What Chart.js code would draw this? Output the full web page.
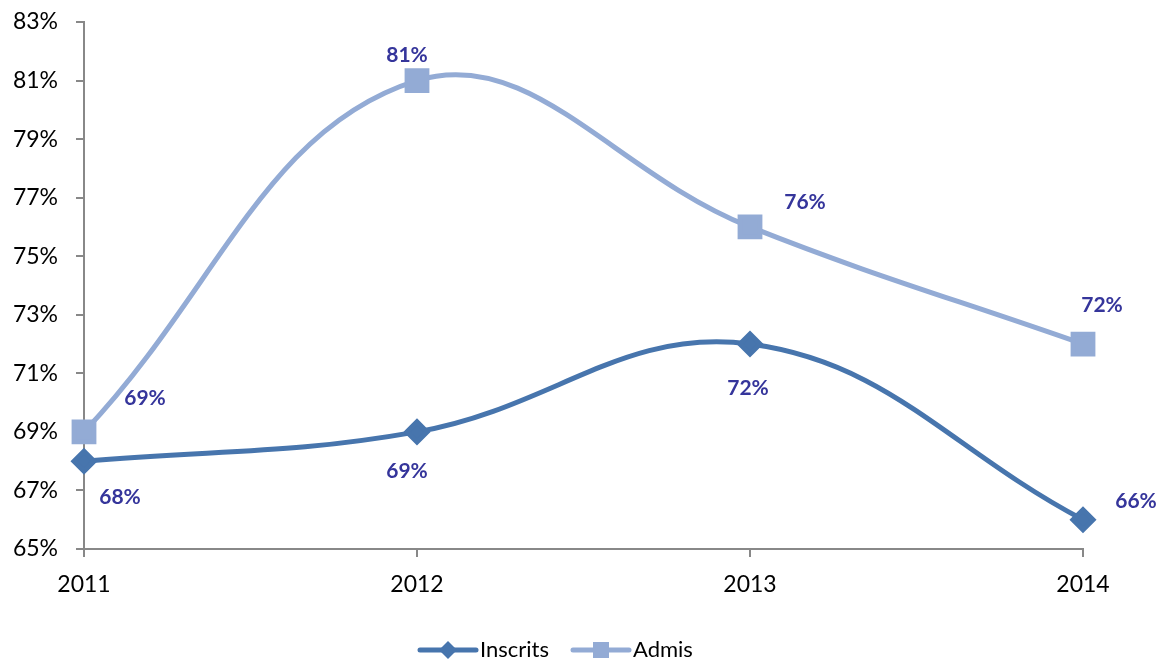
<!DOCTYPE html>
<html>
<head>
<meta charset="utf-8">
<script src="https://cdn.jsdelivr.net/npm/chart.js@4"></script>
<style>
  html, body { margin: 0; padding: 0; background: #fff; }
  #wrap { width: 1167px; height: 664px; }
</style>
</head>
<body>
<div id="wrap"><canvas id="chart" width="1167" height="664"></canvas></div>
<script>
const years = ['2011', '2012', '2013', '2014'];
const inscrits = [68, 69, 72, 66];
const admis = [69, 81, 76, 72];
const yMin = 65, yMax = 83, yStep = 2;

const FONT = 'Lato, "Liberation Sans", sans-serif';
const LABEL_COLOR = '#35359B';

// décalage des étiquettes par rapport au point (px)
const labelOffsets = {
    0: [[36, 36], [-10, 39], [-2, 44], [53, -18]],
    1: [[61, -34], [-10, -25], [55, -25], [19, -39]]
};

const pointLabels = {
    id: 'pointLabels',
    afterDatasetsDraw(chart) {
        const ctx = chart.ctx;
        ctx.save();
        ctx.font = 'bold 21px ' + FONT;
        ctx.fillStyle = LABEL_COLOR;
        ctx.textAlign = 'center';
        ctx.textBaseline = 'middle';
        chart.data.datasets.forEach((ds, i) => {
            chart.getDatasetMeta(i).data.forEach((pt, j) => {
                const off = labelOffsets[i][j];
                ctx.fillText(ds.data[j] + '%', pt.x + off[0], pt.y + off[1]);
            });
        });
        ctx.restore();
    }
};

// légende style Excel : trait + marqueur
const lineLegend = {
    id: 'lineLegend',
    afterDraw(chart) {
        const ctx = chart.ctx;
        const items = [
            { text: 'Inscrits', x: 420, ds: chart.data.datasets[0] },
            { text: 'Admis', x: 573, ds: chart.data.datasets[1] }
        ];
        const y = 650;
        ctx.save();
        ctx.font = '22px ' + FONT;
        ctx.textBaseline = 'middle';
        items.forEach(it => {
            ctx.strokeStyle = it.ds.borderColor;
            ctx.lineWidth = 5;
            ctx.lineCap = 'round';
            ctx.beginPath();
            ctx.moveTo(it.x, y);
            ctx.lineTo(it.x + 56, y);
            ctx.stroke();
            ctx.fillStyle = it.ds.pointBackgroundColor;
            const cx = it.x + 28;
            if (it.ds.pointStyle === 'rectRot') {
                ctx.beginPath();
                ctx.moveTo(cx - 9, y);
                ctx.lineTo(cx, y - 9);
                ctx.lineTo(cx + 9, y);
                ctx.lineTo(cx, y + 9);
                ctx.closePath();
                ctx.fill();
            } else {
                ctx.fillRect(cx - 8, y - 8, 16, 16);
            }
            ctx.fillStyle = '#000';
            ctx.textAlign = 'left';
            ctx.fillText(it.text, it.x + 60, y);
        });
        ctx.restore();
    }
};

new Chart(document.getElementById('chart'), {
    type: 'line',
    data: {
        labels: years,
        datasets: [{
            label: 'Inscrits',
            data: inscrits,
            borderColor: '#4775AD',
            backgroundColor: '#4775AD',
            pointBackgroundColor: '#4775AD',
            pointBorderColor: '#4775AD',
            borderWidth: 5,
            pointStyle: 'rectRot',
            pointRadius: 10,
            tension: 0.4
        }, {
            label: 'Admis',
            data: admis,
            borderColor: '#93ABD5',
            backgroundColor: '#93ABD5',
            pointBackgroundColor: '#93ABD5',
            pointBorderColor: '#93ABD5',
            borderWidth: 5,
            pointStyle: 'rect',
            pointRadius: 14,
            tension: 0.4
        }]
    },
    options: {
        responsive: false,
        animation: false,
        layout: { padding: { left: 0, top: 22, right: 84, bottom: 55 } },
        plugins: {
            legend: { display: false },
            tooltip: { enabled: false }
        },
        scales: {
            x: {
                offset: false,
                grid: { drawOnChartArea: false, drawTicks: true, tickLength: 8, color: '#888', lineWidth: 2 },
                border: { color: '#888', width: 2 },
                ticks: { color: '#000', font: { family: FONT, size: 23 }, padding: 14, maxRotation: 0 },
                afterFit(scale) { scale.height = 60; }
            },
            y: {
                min: yMin,
                max: yMax,
                grid: { drawOnChartArea: false, drawTicks: true, tickLength: 8, color: '#888', lineWidth: 2 },
                border: { color: '#888', width: 2 },
                ticks: {
                    stepSize: yStep,
                    color: '#000',
                    font: { family: FONT, size: 23 },
                    padding: 18,
                    callback: v => v + '%'
                },
                afterFit(scale) {
                    scale.width = 84;
                    scale.paddingTop = 0;
                    scale.paddingBottom = 0;
                }
            }
        }
    },
    plugins: [pointLabels, lineLegend]
});
</script>
</body>
</html>
